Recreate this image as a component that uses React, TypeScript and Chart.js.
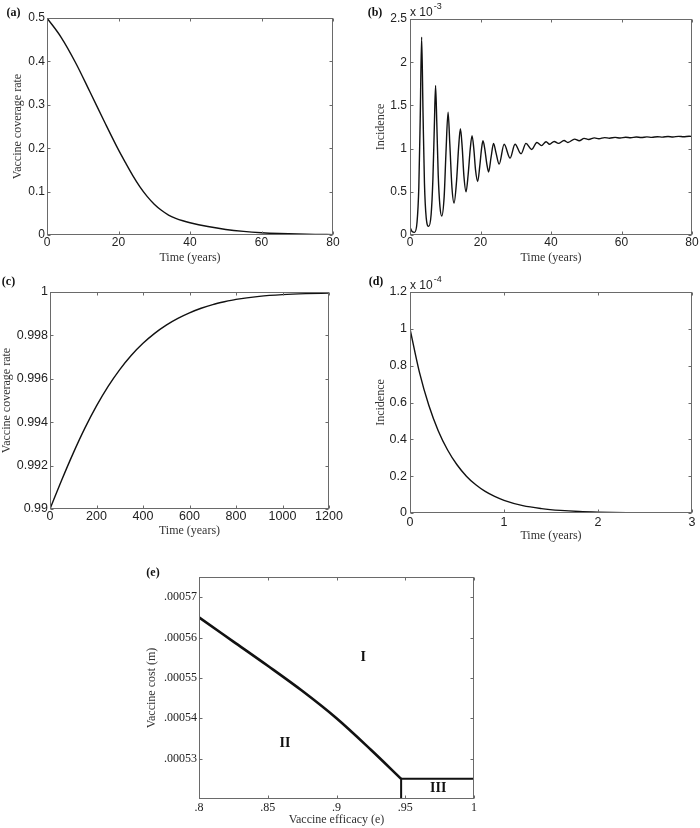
import React, { useEffect, useRef } from "react";
import { Chart, registerables } from "chart.js";
Chart.register(...registerables);

const SANS = '"Liberation Sans", Arial, Helvetica, sans-serif';
const SERIF = '"Liberation Serif", "Times New Roman", serif';

// ---------- (a) vaccine coverage rate vs time ----------
const aTime = [0, 4, 8, 12, 16, 20, 22, 24, 26, 28, 30, 32, 34, 36, 38, 40, 45, 50, 55, 60, 65, 70, 75, 80];
const aCoverage = [0.5, 0.455, 0.397, 0.33, 0.262, 0.196, 0.166, 0.137, 0.111, 0.089, 0.071, 0.057, 0.046, 0.0385, 0.0328, 0.0283, 0.0195, 0.0128, 0.0083, 0.0053, 0.0034, 0.0022, 0.0014, 0.0009];
const aXTicks = [0, 20, 40, 60, 80];
const aXLabels = ["0", "20", "40", "60", "80"];
const aYTicks = [0, 0.1, 0.2, 0.3, 0.4, 0.5];
const aYLabels = ["0", "0.1", "0.2", "0.3", "0.4", "0.5"];

// ---------- (b) incidence (x 10^-3) vs time ----------
const bTime = [
  0, 0.6, 1.3, 2.0, 2.5, 2.9, 3.3, 3.7, 4.1, 4.6, 5.3,
  6.0, 6.5, 6.9, 7.25, 7.6, 8.0, 8.5, 9.0,
  9.7, 10.2, 10.8, 11.3, 11.9, 12.5,
  13.2, 13.8, 14.3, 14.8, 15.3, 15.9,
  16.5, 17.1, 17.6, 18.1, 18.6, 19.2,
  19.8, 20.3, 20.7, 21.2, 21.8, 22.3,
  23.0, 23.7, 24.4, 25.3,
  26.7, 28.4, 29.8, 31.5, 32.9, 34.5, 36.0, 37.3, 38.6, 39.6, 40.9, 42.1, 43.7, 44.8, 46.7, 48.0, 49.4,
  50.7, 52.3, 53.6, 55.2, 56.6, 58.2, 59.6, 61.2, 62.6, 64.2, 65.6, 67.2, 68.6, 70.2, 71.6, 73.2, 74.6, 76.2, 77.6, 79.2, 80,
];
const bIncidence = [
  0.09, 0.04, 0.03, 0.15, 0.55, 1.35, 2.29, 1.4, 0.6, 0.2, 0.1,
  0.24, 0.65, 1.25, 1.73, 1.3, 0.7, 0.33, 0.22,
  0.45, 0.95, 1.42, 1.05, 0.55, 0.37,
  0.62, 1.02, 1.23, 1.02, 0.68, 0.5,
  0.7, 1.0, 1.15, 1.0, 0.75, 0.62,
  0.8, 1.0, 1.09, 1.0, 0.82, 0.73,
  0.9, 1.06, 0.95, 0.82,
  1.05, 0.89, 1.05, 0.94, 1.06, 0.99, 1.07, 1.035, 1.08, 1.05, 1.083, 1.06, 1.094, 1.071, 1.11, 1.09, 1.118,
  1.105, 1.124, 1.114, 1.127, 1.12, 1.13, 1.122, 1.132, 1.125, 1.134, 1.128, 1.136, 1.13, 1.138, 1.133, 1.14, 1.135, 1.142, 1.137, 1.143, 1.14,
];
const bXTicks = [0, 20, 40, 60, 80];
const bXLabels = ["0", "20", "40", "60", "80"];
const bYTicks = [0, 0.5, 1, 1.5, 2, 2.5];
const bYLabels = ["0", "0.5", "1", "1.5", "2", "2.5"];

// ---------- (c) vaccine coverage rate vs time ----------
const cTime = [0, 50, 100, 150, 200, 250, 300, 350, 400, 450, 500, 550, 600, 650, 700, 750, 800, 900, 1000, 1100, 1200];
const cCoverage = [0.99, 0.991325, 0.992575, 0.993725, 0.99475, 0.99565, 0.996425, 0.997085, 0.997635, 0.998095, 0.998475, 0.998785, 0.99904, 0.99925, 0.99942, 0.99955, 0.99966, 0.9998, 0.99988, 0.999925, 0.99995];
const cXTicks = [0, 200, 400, 600, 800, 1000, 1200];
const cXLabels = ["0", "200", "400", "600", "800", "1000", "1200"];
const cYTicks = [0.99, 0.992, 0.994, 0.996, 0.998, 1];
const cYLabels = ["0.99", "0.992", "0.994", "0.996", "0.998", "1"];

// ---------- (d) incidence (x 10^-4) vs time ----------
const dTime = [0, 0.1, 0.2, 0.3, 0.4, 0.5, 0.6, 0.7, 0.8, 0.9, 1.0, 1.2, 1.4, 1.6, 1.8, 2.0, 2.3, 2.6, 3.0];
const dIncidence = [1.0, 0.765, 0.585, 0.447, 0.342, 0.262, 0.2, 0.153, 0.117, 0.09, 0.069, 0.04, 0.024, 0.014, 0.008, 0.0048, 0.0021, 0.0009, 0.0003];
const dXTicks = [0, 1, 2, 3];
const dXLabels = ["0", "1", "2", "3"];
const dYTicks = [0, 0.2, 0.4, 0.6, 0.8, 1, 1.2];
const dYLabels = ["0", "0.2", "0.4", "0.6", "0.8", "1", "1.2"];

// ---------- (e) region boundaries: vaccine cost vs efficacy ----------
const eEfficacy = [0.8, 0.825, 0.85, 0.875, 0.9, 0.925, 0.947];
const eCost = [0.000565, 0.000559, 0.000553, 0.0005468, 0.00054, 0.0005322, 0.000525];
const eStepEfficacy = [0.947, 0.947, 1.0];
const eStepCost = [0.00052, 0.000525, 0.000525];
const eRegionNames = ["I", "II", "III"];
const eRegionEfficacy = [0.9195, 0.8625, 0.974];
const eRegionCost = [0.0005552, 0.0005337, 0.0005226];
const eXTicks = [0.8, 0.85, 0.9, 0.95, 1];
const eXLabels = [".8", ".85", ".9", ".95", "1"];
const eYTicks = [0.00053, 0.00054, 0.00055, 0.00056, 0.00057];
const eYLabels = [".00053", ".00054", ".00055", ".00056", ".00057"];

type Series = { x: number[]; y: number[]; width: number; smooth: boolean };
type Panel = {
  box: { left: number; top: number; width: number; height: number };
  padTop: number;
  padRight: number;
  yW: number;
  xH: number;
  series: Series[];
  xMin: number; xMax: number; yMin: number; yMax: number;
  xTicks: number[]; xLabels: string[]; yTicks: number[]; yLabels: string[];
  tickFamily: string; tickSize: number;
  xTitle: string; yTitle: string;
  xTickPad: number; yTickPad: number; xTitlePad: number; yTitlePad: number;
  tag: string; tagX: number; tagY: number;
  exponent?: string;
  regions?: { names: string[]; x: number[]; y: number[] };
};

const panels: Panel[] = [
  {
    box: { left: 0, top: 0, width: 345, height: 275 }, padTop: 18, padRight: 12, yW: 47, xH: 40,
    series: [{ x: aTime, y: aCoverage, width: 1.4, smooth: true }],
    xMin: 0, xMax: 80, yMin: 0, yMax: 0.5,
    xTicks: aXTicks, xLabels: aXLabels, yTicks: aYTicks, yLabels: aYLabels,
    tickFamily: SANS, tickSize: 12, xTitle: "Time (years)", yTitle: "Vaccine coverage rate",
    xTickPad: 0, yTickPad: 2, xTitlePad: 10, yTitlePad: 11,
    tag: "(a)", tagX: 13.5, tagY: 13,
  },
  {
    box: { left: 350, top: 0, width: 350, height: 275 }, padTop: 19, padRight: 8, yW: 60, xH: 40,
    series: [{ x: bTime, y: bIncidence, width: 1.4, smooth: true }],
    xMin: 0, xMax: 80, yMin: 0, yMax: 2.5,
    xTicks: bXTicks, xLabels: bXLabels, yTicks: bYTicks, yLabels: bYLabels,
    tickFamily: SANS, tickSize: 12, xTitle: "Time (years)", yTitle: "Incidence",
    xTickPad: 0, yTickPad: 3, xTitlePad: 10, yTitlePad: 24,
    tag: "(b)", tagX: 25, tagY: 12.5, exponent: "-3",
  },
  {
    box: { left: 0, top: 270, width: 345, height: 275 }, padTop: 22, padRight: 16, yW: 50, xH: 36,
    series: [{ x: cTime, y: cCoverage, width: 1.4, smooth: true }],
    xMin: 0, xMax: 1200, yMin: 0.99, yMax: 1,
    xTicks: cXTicks, xLabels: cXLabels, yTicks: cYTicks, yLabels: cYLabels,
    tickFamily: SANS, tickSize: 12.5, xTitle: "Time (years)", yTitle: "Vaccine coverage rate",
    xTickPad: 0, yTickPad: 2, xTitlePad: 7, yTitlePad: 0,
    tag: "(c)", tagX: 8.5, tagY: 12,
  },
  {
    box: { left: 350, top: 270, width: 350, height: 275 }, padTop: 22, padRight: 8, yW: 60, xH: 32,
    series: [{ x: dTime, y: dIncidence, width: 1.4, smooth: true }],
    xMin: 0, xMax: 3, yMin: 0, yMax: 1.2,
    xTicks: dXTicks, xLabels: dXLabels, yTicks: dYTicks, yLabels: dYLabels,
    tickFamily: SANS, tickSize: 12.5, xTitle: "Time (years)", yTitle: "Incidence",
    xTickPad: 2, yTickPad: 3, xTitlePad: 2, yTitlePad: 24,
    tag: "(d)", tagX: 26, tagY: 12, exponent: "-4",
  },
  {
    box: { left: 140, top: 560, width: 346, height: 268 }, padTop: 17, padRight: 12, yW: 59, xH: 29,
    series: [
      { x: eEfficacy, y: eCost, width: 2.6, smooth: true },
      { x: eStepEfficacy, y: eStepCost, width: 2, smooth: false },
    ],
    xMin: 0.8, xMax: 1, yMin: 0.00052, yMax: 0.000575,
    xTicks: eXTicks, xLabels: eXLabels, yTicks: eYTicks, yLabels: eYLabels,
    tickFamily: SERIF, tickSize: 12, xTitle: "Vaccine efficacy (e)", yTitle: "Vaccine cost (m)",
    xTickPad: 2, yTickPad: 2, xTitlePad: 1, yTitlePad: 5,
    tag: "(e)", tagX: 13, tagY: 13,
    regions: { names: eRegionNames, x: eRegionEfficacy, y: eRegionCost },
  },
];

function framePlugin(p: Panel) {
  return {
    id: "frame",
    afterDraw(chart: any) {
      const ctx = chart.ctx as CanvasRenderingContext2D;
      const a = chart.chartArea;
      const xs = chart.scales.x;
      const ys = chart.scales.y;
      const L = Math.round(a.left) + 0.5;
      const R = Math.round(a.right) - 0.5;
      const T = Math.round(a.top) + 0.5;
      const B = Math.round(a.bottom) - 0.5;
      ctx.save();
      ctx.strokeStyle = "#6a6a6a";
      ctx.lineWidth = 1;
      ctx.strokeRect(L, T, R - L, B - T);
      const tl = 3;
      ctx.beginPath();
      p.xTicks.forEach((v) => {
        const px = Math.round(xs.getPixelForValue(v)) + 0.5;
        ctx.moveTo(px, B); ctx.lineTo(px, B - tl);
        ctx.moveTo(px, T); ctx.lineTo(px, T + tl);
      });
      p.yTicks.forEach((v) => {
        const py = Math.round(ys.getPixelForValue(v)) + 0.5;
        ctx.moveTo(L, py); ctx.lineTo(L + tl, py);
        ctx.moveTo(R, py); ctx.lineTo(R - tl, py);
      });
      ctx.stroke();

      // panel tag
      ctx.fillStyle = "#111";
      ctx.font = `bold 12px ${SERIF}`;
      ctx.textAlign = "center";
      ctx.textBaseline = "middle";
      ctx.fillText(p.tag, p.tagX, p.tagY);

      // exponent
      if (p.exponent) {
        ctx.textAlign = "left";
        ctx.textBaseline = "alphabetic";
        ctx.fillStyle = "#222";
        ctx.font = `12px ${SANS}`;
        const base = "x 10";
        ctx.fillText(base, a.left, a.top - 3);
        const w = ctx.measureText(base).width;
        ctx.font = `9px ${SANS}`;
        ctx.fillText(p.exponent, a.left + w + 1, a.top - 10);
      }

      // region labels
      if (p.regions) {
        ctx.fillStyle = "#111";
        ctx.font = `bold 14px ${SERIF}`;
        ctx.textAlign = "center";
        ctx.textBaseline = "middle";
        p.regions.names.forEach((n, i) => {
          ctx.fillText(n, xs.getPixelForValue(p.regions!.x[i]), ys.getPixelForValue(p.regions!.y[i]));
        });
      }
      ctx.restore();
    },
  };
}

function PanelChart({ p }: { p: Panel }) {
  const ref = useRef<HTMLCanvasElement>(null);
  useEffect(() => {
    const canvas = ref.current!;
    const chart = new Chart(canvas, {
      type: "scatter",
      data: {
        datasets: p.series.map((s) => ({
          data: s.x.map((x, i) => ({ x, y: s.y[i] })),
          showLine: true,
          pointRadius: 0,
          borderColor: "#111",
          backgroundColor: "#111",
          borderWidth: s.width,
          cubicInterpolationMode: s.smooth ? "monotone" : "default",
          tension: 0,
          fill: false,
        })),
      } as any,
      options: {
        responsive: false,
        animation: false,
        devicePixelRatio: 1,
        events: [],
        layout: { padding: { left: 0, top: p.padTop, right: p.padRight, bottom: 0 } },
        plugins: { legend: { display: false }, tooltip: { enabled: false } },
        scales: {
          x: {
            type: "linear",
            min: p.xMin,
            max: p.xMax,
            afterBuildTicks: (s: any) => { s.ticks = p.xTicks.map((v) => ({ value: v })); },
            afterFit: (s: any) => { s.height = p.xH; },
            grid: { display: false, drawTicks: false },
            border: { display: false },
            ticks: {
              padding: p.xTickPad,
              color: "#222",
              autoSkip: false,
              maxRotation: 0,
              font: { family: p.tickFamily, size: p.tickSize },
              callback: (_v: any, i: number) => p.xLabels[i],
            },
            title: {
              display: true,
              text: p.xTitle,
              color: "#333",
              font: { family: SERIF, size: 12 },
              padding: { top: 0, bottom: p.xTitlePad },
            },
          },
          y: {
            type: "linear",
            min: p.yMin,
            max: p.yMax,
            afterBuildTicks: (s: any) => { s.ticks = p.yTicks.map((v) => ({ value: v })); },
            afterFit: (s: any) => { s.width = p.yW; },
            grid: { display: false, drawTicks: false },
            border: { display: false },
            ticks: {
              padding: p.yTickPad,
              color: "#222",
              autoSkip: false,
              font: { family: p.tickFamily, size: p.tickSize },
              callback: (_v: any, i: number) => p.yLabels[i],
            },
            title: {
              display: true,
              text: p.yTitle,
              color: "#333",
              font: { family: SERIF, size: 12 },
              padding: { top: p.yTitlePad, bottom: 0 },
            },
          },
        },
      } as any,
      plugins: [framePlugin(p)],
    });
    return () => chart.destroy();
  }, []);
  return (
    <canvas
      ref={ref}
      width={p.box.width}
      height={p.box.height}
      style={{ position: "absolute", left: p.box.left, top: p.box.top, width: p.box.width, height: p.box.height }}
    />
  );
}

export default function App() {
  return (
    <div style={{ position: "absolute", left: 0, top: 0, width: 700, height: 828, background: "#fff", overflow: "hidden" }}>
      {panels.map((p, i) => (
        <PanelChart key={i} p={p} />
      ))}
    </div>
  );
}
